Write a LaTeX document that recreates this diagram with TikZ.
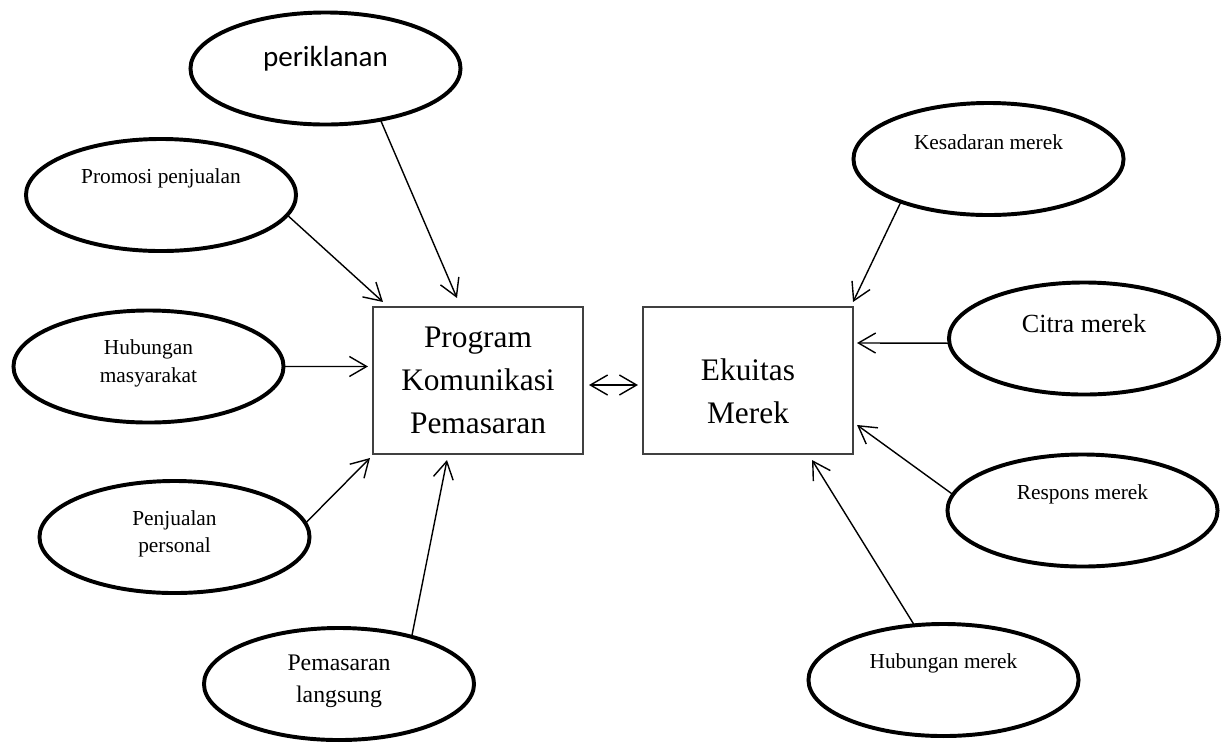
\documentclass[tikz,border=0pt]{standalone}
\usepackage{fontspec}
\setmainfont{Liberation Serif}
\newfontfamily\calibri{Carlito}
\usetikzlibrary{arrows.meta,shapes.geometric}
\newcommand\kecil{\fontsize{15.2}{19.4}\selectfont}
\newcommand\sedang{\fontsize{16.9}{22.8}\selectfont}
\newcommand\besar{\fontsize{18.6}{22}\selectfont}
\newcommand\iklanfont{\calibri\fontsize{20.7}{24}\selectfont}
\tikzset{
  oval/.style={draw=black,ellipse,line width=2.8pt,minimum width=6.75cm,minimum height=2.8cm,
               inner sep=0pt,outer sep=0pt},
  otxt/.style={align=center,inner sep=0pt},
  kotak/.style={draw=black!75,line width=0.9pt,minimum width=5.25cm,minimum height=3.675cm,
                inner sep=0pt,outer sep=0pt},
  ktxt/.style={align=center,font=\fontsize{22.3}{30.4}\selectfont,inner sep=0pt},
  arr/.style={-{Straight Barb[length=4.3mm,width=5mm]},line width=1pt},
  dbl/.style={{Straight Barb[length=4.3mm,width=5mm]}-{Straight Barb[length=4.3mm,width=5mm]},line width=1pt},
}
\begin{document}
\begin{tikzpicture}[x=0.025cm,y=-0.025cm]
\useasboundingbox (0,0) rectangle (1222,746);
% the two central boxes
\node[kotak] (prog) at (478,380.5) {};
\node[ktxt] (prog-t) at (478,380.5) {Program\\Komunikasi\\Pemasaran};
\node[kotak] (merek) at (748,380.5) {};
\node[ktxt] (merek-t) at (748,391) {Ekuitas\\Merek};
% ovals round them
\foreach \nm/\x/\y/\dy/\f/\txt in {
  iklan/325.5/68.5/-10/\iklanfont/{periklanan},
  promo/161/195/-17/\kecil/{Promosi penjualan},
  humas/148.5/366.5/-3/\kecil/{Hubungan\\masyarakat},
  jual/174.5/537/-3/\kecil/{Penjualan\\personal},
  langsung/339/684/-3/\sedang/{Pemasaran\\langsung},
  sadar/988.5/159/-17/\kecil/{Kesadaran merek},
  citra/1084/338.5/-15/\besar/{Citra merek},
  respons/1082.5/510.5/-16/\kecil/{Respons merek},
  hubmerek/943.5/680/-17/\kecil/{Hubungan merek}}{
  \node[oval] (\nm) at (\x,\y) {};
  \node[otxt,font=\f] (\nm-t) at (\x,\y+\dy) {\txt};}
% connectors
\draw[arr] (iklan.-43) -- ([shift={(84,-9)}]prog.north west);
\draw[arr] (promo.-9) -- ([shift={(10,-5)}]prog.north west);
\draw[arr] (humas.east) -- ([shift={(-5,59.5)}]prog.north west);
\draw[arr] (jual.6) -- ([shift={(-3,4)}]prog.south west);
\draw[arr] (langsung.33) -- ([shift={(74,6)}]prog.south west);
\draw[dbl] ([shift={(6,4.5)}]prog.east) -- ([shift={(-5,4.5)}]merek.west);
\draw[arr] (sadar.206) -- ([shift={(0,-5)}]merek.north east);
\draw[arr] (citra.182) -- ([shift={(4,36)}]merek.north east);
\draw[arr] (respons.173) -- ([shift={(4,118)}]merek.north east);
\draw[arr] (hubmerek.118) -- ([shift={(-41,6)}]merek.south east);
\end{tikzpicture}
\end{document}
